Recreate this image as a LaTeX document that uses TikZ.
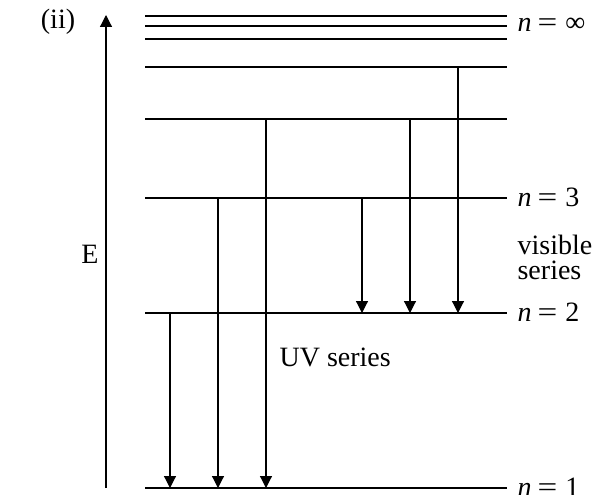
\documentclass[tikz,border=0pt]{standalone}
\usepackage{fontspec}
\usepackage{graphicx}
\setmainfont{Liberation Serif}
\usetikzlibrary{arrows.meta}
\newcommand\levlabel[1]{\textit{n}\hspace{6pt}\scalebox{1.25}[1]{=}\hspace{8pt}#1}
\begin{document}
\begin{tikzpicture}[x=1pt,y=-1pt,line width=1.2pt,
  levelline/.style={draw},
  trans/.style={-{Triangle[length=12pt,width=12pt]}},
  lbl/.style={anchor=west,inner sep=0pt,font=\fontsize{28}{25}\selectfont},
  txt/.style={inner sep=0pt,font=\fontsize{28}{25}\selectfont}]
\useasboundingbox (0,0) rectangle (608,495);
% level end points
\foreach \n/\y in {a/16,b/26,c/39,d/67,e/119,f/198,g/313,h/488}{
  \coordinate (\n l) at (145,\y);
  \coordinate (\n r) at (507,\y);
  \draw[levelline] (\n l) -- (\n r);
}
% energy axis
\coordinate (Ebot) at (106,488);
\coordinate (Etop) at (106,15);
\draw[trans] (Ebot) -- (Etop);
\node[txt] (E) at (90,254) {E};
\node[txt] (ii) at (58,22) {(ii)};
% UV series transitions
\coordinate (u1s) at (170,313); \coordinate (u1e) at (170,488);
\coordinate (u2s) at (218,198); \coordinate (u2e) at (218,488);
\coordinate (u3s) at (266,119); \coordinate (u3e) at (266,488);
\draw[trans] (u1s) -- (u1e);
\draw[trans] (u2s) -- (u2e);
\draw[trans] (u3s) -- (u3e);
% visible series transitions
\coordinate (v1s) at (362,198); \coordinate (v1e) at (362,313);
\coordinate (v2s) at (410,119); \coordinate (v2e) at (410,313);
\coordinate (v3s) at (458,67);  \coordinate (v3e) at (458,313);
\draw[trans] (v1s) -- (v1e);
\draw[trans] (v2s) -- (v2e);
\draw[trans] (v3s) -- (v3e);
% labels
\node[lbl] (ninf) at (517,25) {\levlabel{∞}};
\node[lbl] (n3) at (517,197) {\levlabel{3}};
\node[lbl] (n2) at (517,312) {\levlabel{2}};
\node[lbl] (n1) at (517,487) {\levlabel{1}};
\node[lbl,align=left] (vis) at (517,257) {visible\\series};
\node[txt,anchor=west] (uv) at (279,357) {UV series};
\end{tikzpicture}
\end{document}
